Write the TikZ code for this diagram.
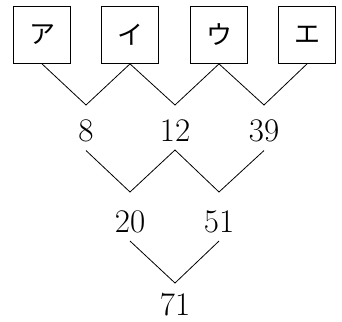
\documentclass[tikz,border=0pt]{standalone}
\usepackage{fontspec}
\newfontfamily\jp{Noto Sans CJK JP}
\tikzset{
  kbox/.style={draw, line width=0.8pt, minimum width=57pt, minimum height=57pt, inner sep=0pt, font=\jp\fontsize{26}{26}\selectfont},
  num/.style={anchor=base, inner xsep=0pt, inner ysep=8.5pt, outer sep=0pt, font=\fontsize{33}{33}\selectfont},
  conn/.style={line width=0.8pt, line join=miter}
}
\begin{document}
\begin{tikzpicture}[x=1pt,y=-1pt]
\useasboundingbox (0,0) rectangle (342,321);
\node[kbox] (a) at (42,35) {ア};
\node[kbox] (b) at (130,35) {イ};
\node[kbox] (c) at (219,35) {ウ};
\node[kbox] (d) at (307,35) {エ};
\coordinate (v1) at (86,105);
\coordinate (v2) at (175,105);
\coordinate (v3) at (264,105);
\draw[conn] (a.south) -- (v1) -- (b.south) -- (v2) -- (c.south) -- (v3) -- (d.south);
\node[num] (n8) at (86,141.5) {8};
\node[num] (n12) at (175,141.5) {12};
\node[num] (n39) at (264,141.5) {39};
\coordinate (w1) at (130,192);
\coordinate (w2) at (219,192);
\draw[conn] (n8.south) -- (w1) -- (n12.south) -- (w2) -- (n39.south);
\node[num] (n20) at (130,232) {20};
\node[num] (n51) at (219,232) {51};
\coordinate (x1) at (175,283);
\draw[conn] (n20.south) -- (x1) -- (n51.south);
\node[num, inner ysep=0pt] (n71) at (175,315) {71};
\end{tikzpicture}
\end{document}
